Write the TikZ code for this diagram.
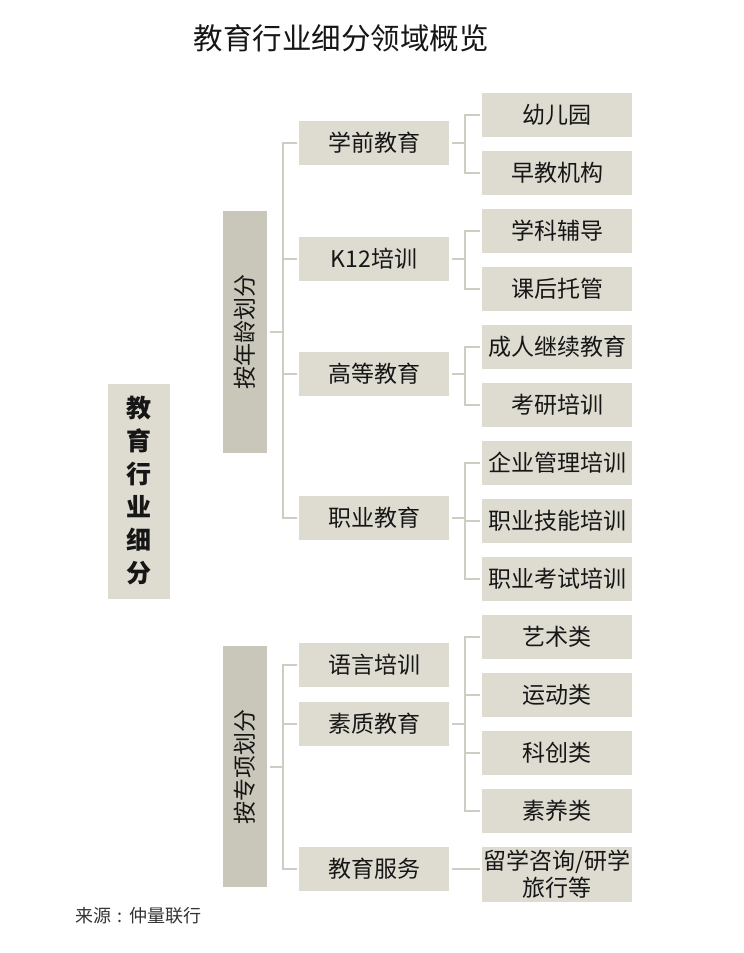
\documentclass[tikz,border=0pt]{standalone}
\usepackage{fontspec}
\usepackage{graphicx}
\setmainfont{Noto Sans CJK SC}
\usepackage{tikz}
\definecolor{boxfill}{HTML}{DEDBD1}
\definecolor{groupfill}{HTML}{C9C6BA}
\definecolor{linkgray}{HTML}{CFCCC2}
\definecolor{inkgray}{HTML}{161616}

\begin{document}
\begin{tikzpicture}[x=1pt, y=-1pt,
    every node/.style={text=inkgray, inner sep=0pt},
    rootbox/.style={fill=boxfill, minimum width=62, minimum height=215,
      align=center, font=\fontsize{25}{33}\selectfont\bfseries},
    groupbox/.style={fill=groupfill, minimum width=44, minimum height=242,
      font=\fontsize{23}{26}\selectfont},
    midbox/.style={fill=boxfill, minimum width=150, minimum height=44,
      font=\fontsize{23}{26}\selectfont},
    leafbox/.style={fill=boxfill, minimum width=150, minimum height=44,
      align=center, font=\fontsize{23}{27}\selectfont},
    link/.style={draw=linkgray, line width=2pt}]
  \useasboundingbox[fill=white] (0,0) rectangle (744,953);

  % title and source
  \node (title) at (341,38) {\fontsize{29.5}{32}\selectfont 教育行业细分领域概览};
  \node[anchor=west, text=black!80] (source) at (75,916) {\fontsize{18}{20}\selectfont 来源\makebox[1em][c]{:}仲量联行};

  % root and the two ways of splitting
  \node[rootbox] (root) at (139,491) {教\\育\\行\\业\\细\\分};
  \node[groupbox] (age) at (244.5,332) {\rotatebox{90}{按年龄划分}};
  \node[groupbox, minimum height=241] (topic) at (244.5,766.5) {\rotatebox{90}{按专项划分}};

  % second level
  \node[midbox] (p1) at (374,143) {学前教育};
  \node[midbox] (p2) at (374,259) {K12培训};
  \node[midbox] (p3) at (374,373.5) {高等教育};
  \node[midbox] (p4) at (374,518) {职业教育};
  \node[midbox] (p5) at (374,665) {语言培训};
  \node[midbox] (p6) at (374,723.5) {素质教育};
  \node[midbox] (p7) at (374,868.5) {教育服务};

  % third level
  \node[leafbox] (k1) at (557,114.5) {幼儿园};
  \node[leafbox] (k2) at (557,172.5) {早教机构};
  \node[leafbox] (k3) at (557,230.5) {学科辅导};
  \node[leafbox] (k4) at (557,288.5) {课后托管};
  \node[leafbox] (k5) at (557,346.5) {成人继续教育};
  \node[leafbox] (k6) at (557,404.5) {考研培训};
  \node[leafbox] (k7) at (557,462.5) {企业管理培训};
  \node[leafbox] (k8) at (557,520.5) {职业技能培训};
  \node[leafbox] (k9) at (557,578.5) {职业考试培训};
  \node[leafbox] (k10) at (557,636.5) {艺术类};
  \node[leafbox] (k11) at (557,694.5) {运动类};
  \node[leafbox] (k12) at (557,752.5) {科创类};
  \node[leafbox] (k13) at (557,810.5) {素养类};
  \node[leafbox, minimum height=55] (k14) at (557,874.5) {留学咨询/研学\\旅行等};

  % group brackets
  \draw[link] ([xshift=3]age.east) -- ++(14,0);
  \draw[link] ([xshift=-2]p1.west) -- ++(-14,0) |- ([xshift=-2]p4.west);
  \draw[link] ([xshift=-2]p2.west) -- ++(-14,0);
  \draw[link] ([xshift=-2]p3.west) -- ++(-14,0);
  \draw[link] ([xshift=3]topic.east) -- ++(14,0);
  \draw[link] ([xshift=-2]p5.west) -- ++(-14,0) |- ([xshift=-2]p7.west);
  \draw[link] ([xshift=-2]p6.west) -- ++(-14,0);

  % leaf brackets
  \draw[link] ([xshift=3]p1.east) -- ++(13,0);
  \draw[link] ([xshift=-2]k1.west) -- ++(-15,0) |- ([xshift=-2]k2.west);
  \draw[link] ([xshift=3]p2.east) -- ++(13,0);
  \draw[link] ([xshift=-2]k3.west) -- ++(-15,0) |- ([xshift=-2]k4.west);
  \draw[link] ([xshift=3]p3.east) -- ++(13,0);
  \draw[link] ([xshift=-2]k5.west) -- ++(-15,0) |- ([xshift=-2]k6.west);
  \draw[link] ([xshift=3]p4.east) -- ++(13,0);
  \draw[link] ([xshift=-2]k7.west) -- ++(-15,0) |- ([xshift=-2]k9.west);
  \draw[link] ([xshift=-2]k8.west) -- ++(-15,0);
  \draw[link] ([xshift=3]p6.east) -- ++(13,0);
  \draw[link] ([xshift=-2]k10.west) -- ++(-15,0) |- ([xshift=-2]k13.west);
  \draw[link] ([xshift=-2]k11.west) -- ++(-15,0);
  \draw[link] ([xshift=-2]k12.west) -- ++(-15,0);
  \draw[link] ([xshift=3]p7.east) -- ([xshift=-2]p7.east -| k14.west);
\end{tikzpicture}
\end{document}
